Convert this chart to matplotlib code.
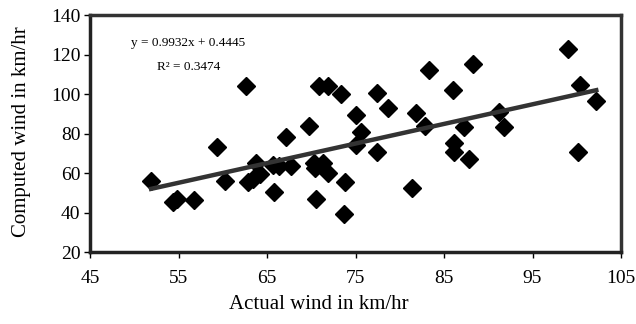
import numpy as np
import matplotlib
matplotlib.use("Agg")
import matplotlib.pyplot as plt

# ============================================================
# DATA
# ============================================================
actual = [51.9, 54.4, 54.8, 56.8, 59.4, 60.3, 62.6, 62.9, 63.4, 64.2,
          63.7, 65.7, 65.8, 66.4, 67.7, 67.2, 69.8, 70.3, 70.4, 70.5,
          71.3, 71.9, 70.9, 71.9, 73.4, 73.8, 73.7, 75.0, 75.1, 75.6,
          77.4, 77.4, 78.7, 81.4, 81.8, 82.9, 83.3, 86.0, 86.1, 86.1,
          87.3, 87.8, 88.3, 91.2, 91.8, 99.0, 100.4, 100.1, 102.2]
computed = [55.9, 45.2, 46.8, 46.3, 73.2, 55.9, 104.1, 55.7, 57.0, 59.5,
            65.0, 64.3, 50.5, 63.5, 63.8, 78.0, 83.6, 64.9, 62.7, 46.7,
            64.9, 59.8, 104.1, 104.1, 100.2, 55.6, 39.1, 89.4, 74.0, 80.9,
            100.4, 70.8, 93.0, 52.3, 90.2, 83.8, 112.3, 102.2, 75.0, 70.6,
            83.4, 67.0, 115.1, 91.1, 83.4, 122.6, 104.6, 70.8, 96.5]

slope = 0.9932
intercept = 0.4445
r2 = 0.3474

x_ticks = [45, 55, 65, 75, 85, 95, 105]
y_ticks = [20, 40, 60, 80, 100, 120, 140]

# ============================================================
# PLOT
# ============================================================
plt.rcParams["font.family"] = ["Liberation Serif", "DejaVu Serif"]

fig = plt.figure(figsize=(6.36, 3.24), dpi=100)
ax = fig.add_axes([0.1415, 0.222, 0.835, 0.7317])

ax.plot(actual, computed, linestyle="none", marker="D", markersize=9.5,
        color="black", zorder=3)

xs = np.array([min(actual), max(actual)])
ax.plot(xs, slope * xs + intercept, color="#333333", linewidth=3.2, zorder=4)

ax.set_xlim(45, 105)
ax.set_ylim(20, 140)
ax.set_xticks(x_ticks)
ax.set_yticks(y_ticks)
ax.tick_params(axis="both", labelsize=14, direction="out", length=4,
               width=1, color="black", pad=3)
ax.tick_params(axis="x", pad=9)

for side in ["top", "right"]:
    ax.spines[side].set_color("#333333")
    ax.spines[side].set_linewidth(2.5)
for side in ["left", "bottom"]:
    ax.spines[side].set_color("#222222")
    ax.spines[side].set_linewidth(2.5)

# excel centres the x title on the whole chart, not the plot area
ax.set_xlabel("Actual wind in km/hr", fontsize=15)
ax.xaxis.set_label_coords(0.43, -0.183)
ax.set_ylabel("Computed wind in km/hr", fontsize=15)
ax.yaxis.set_label_coords(-0.111, 0.51)

ax.text(0.185, 0.88, f"y = {slope}x + {intercept}", transform=ax.transAxes,
        ha="center", va="center", fontsize=9.5)
ax.text(0.185, 0.78, f"R\u00b2 = {r2}", transform=ax.transAxes,
        ha="center", va="center", fontsize=9.5)

fig.savefig("out.png", dpi=100)
plt.close(fig)
